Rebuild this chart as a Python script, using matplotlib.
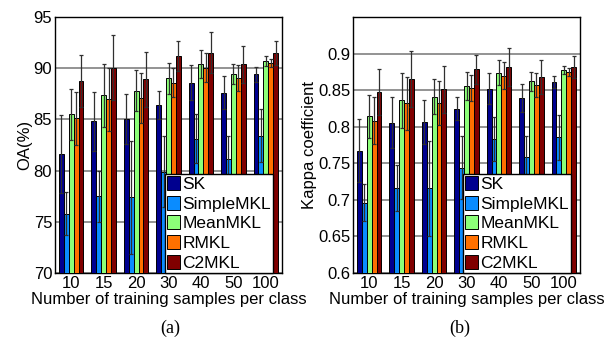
import numpy as np
import matplotlib
matplotlib.use("Agg")
import matplotlib.pyplot as plt

plt.rcParams['font.family'] = ['Liberation Sans', 'DejaVu Sans']

# Data
groups = ['10', '15', '20', '30', '40', '50', '100']
methods = ['SK', 'SimpleMKL', 'MeanMKL', 'RMKL', 'C2MKL']
colors = ['#00008F', '#0A8CFF', '#8CFF78', '#FF7000', '#800000']

oa_mean = [
    [81.6, 84.8, 85.0, 86.4, 88.6, 87.6, 89.4],   # SK
    [75.8, 77.5, 77.4, 79.9, 83.1, 81.1, 83.4],   # SimpleMKL
    [85.5, 87.35, 87.8, 89.0, 90.4, 89.45, 90.7], # MeanMKL
    [85.1, 86.95, 87.05, 88.6, 90.05, 89.05, 90.5], # RMKL
    [88.75, 90.05, 88.9, 91.2, 91.5, 90.4, 91.5], # C2MKL
]
oa_std = [
    [3.8, 2.9, 2.45, 1.4, 1.7, 1.6, 0.7],
    [2.1, 2.5, 5.5, 3.5, 2.4, 2.3, 2.6],
    [2.5, 3.1, 2.0, 1.5, 1.35, 1.0, 0.5],
    [2.6, 3.1, 2.45, 1.45, 1.4, 1.25, 0.4],
    [2.5, 3.2, 2.7, 1.5, 2.0, 1.8, 1.2],
]

kappa_mean = [
    [0.767, 0.8055, 0.807, 0.8247, 0.852, 0.839, 0.8615],
    [0.696, 0.716, 0.716, 0.744, 0.7828, 0.759, 0.7855],
    [0.814, 0.836, 0.841, 0.856, 0.874, 0.862, 0.8775],
    [0.808, 0.832, 0.832, 0.8525, 0.870, 0.857, 0.8744],
    [0.8475, 0.865, 0.851, 0.8785, 0.882, 0.868, 0.882],
]
kappa_std = [
    [0.043, 0.035, 0.030, 0.016, 0.021, 0.019, 0.008],
    [0.025, 0.031, 0.065, 0.043, 0.030, 0.028, 0.031],
    [0.030, 0.038, 0.024, 0.019, 0.017, 0.013, 0.006],
    [0.032, 0.036, 0.030, 0.018, 0.018, 0.017, 0.0056],
    [0.031, 0.038, 0.032, 0.020, 0.026, 0.023, 0.015],
]


def draw_panel(ax, means, stds, ylim, yticks, yticklabels, ylabel):
    x = np.arange(1, len(groups) + 1)
    width = 0.15
    for i, name in enumerate(methods):
        pos = x + (i - 2) * width
        ax.bar(pos, means[i], width, color=colors[i], edgecolor='black',
               linewidth=0.7, label=name, zorder=3)
        ax.errorbar(pos, means[i], yerr=stds[i], fmt='none', ecolor='#303030',
                    elinewidth=0.9, capsize=1.5, capthick=0.9, zorder=4)
    ax.set_xlim(0.5, len(groups) + 0.5)
    ax.set_ylim(*ylim)
    ax.set_xticks(x)
    ax.set_xticklabels(groups)
    ax.set_yticks(yticks)
    ax.set_yticklabels(yticklabels)
    ax.yaxis.grid(True, color='#808080', linewidth=1.2, zorder=0)
    ax.set_axisbelow(True)
    ax.tick_params(axis='both', labelsize=12, length=0, pad=2)
    ax.set_xlabel('Number of training samples per class', fontsize=12, labelpad=1)
    ax.set_ylabel(ylabel, fontsize=12, labelpad=1)
    for s in ax.spines.values():
        s.set_linewidth(1.0)
    leg = ax.legend(loc='lower right', bbox_to_anchor=(0.96, 0.0), fontsize=12.5,
                    frameon=True, fancybox=False, edgecolor='black',
                    handlelength=0.75, handleheight=0.85, handletextpad=0.12,
                    labelspacing=0.22, borderpad=0.12, borderaxespad=0.0,
                    framealpha=1)
    leg.get_frame().set_linewidth(1.0)
    leg.set_zorder(10)


fig = plt.figure(figsize=(6.14, 3.39), dpi=100)
ax1 = fig.add_axes([55 / 614, 1 - 273 / 339, 227 / 614, 256 / 339])
ax2 = fig.add_axes([353 / 614, 1 - 273 / 339, 227 / 614, 256 / 339])

draw_panel(ax1, oa_mean, oa_std, (70, 95), [70, 75, 80, 85, 90, 95],
           ['70', '75', '80', '85', '90', '95'], 'OA(%)')
draw_panel(ax2, kappa_mean, kappa_std, (0.6, 0.95),
           [0.6, 0.65, 0.7, 0.75, 0.8, 0.85, 0.9],
           ['0.6', '0.65', '0.7', '0.75', '0.8', '0.85', '0.9'], 'Kappa coefficient')

fig.text(170 / 614, 1 - 328 / 339, '(a)', fontsize=13, family='Liberation Serif',
         ha='center', va='center')
fig.text(460 / 614, 1 - 328 / 339, '(b)', fontsize=13, family='Liberation Serif',
         ha='center', va='center')

fig.savefig('out.png', dpi=100)
